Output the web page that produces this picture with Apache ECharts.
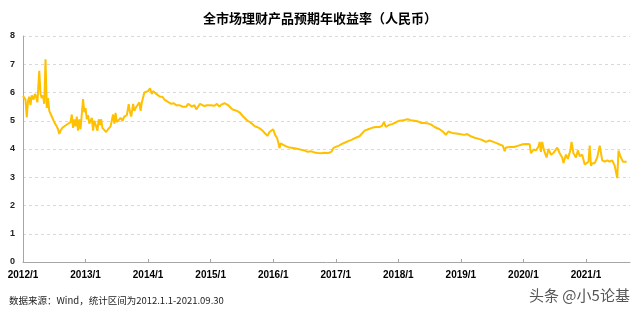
<!DOCTYPE html>
<html>
<head>
<meta charset="utf-8">
<script src="https://cdn.jsdelivr.net/npm/echarts@6/dist/echarts.min.js"></script>
<style>html,body{margin:0;padding:0;background:#fff}#c{width:640px;height:309px}</style>
</head>
<body>
<div id="c"></div>
<script>
var titleText = '全市场理财产品预期年收益率（人民币）';
var noteText = '数据来源：Wind，统计区间为2012.1.1-2021.09.30';
var markText = '头条 @小5论基';
var yTicks = [0, 1, 2, 3, 4, 5, 6, 7, 8];
var yearTicks = [2012, 2013, 2014, 2015, 2016, 2017, 2018, 2019, 2020, 2021];

// time as decimal years
var timeYears = [
2012.00,2012.02,2012.04,2012.06,2012.08,2012.10,2012.12,2012.14,2012.17,2012.19,
2012.21,2012.23,2012.26,2012.28,2012.30,2012.32,2012.34,2012.36,2012.38,2012.40,
2012.42,2012.44,2012.46,2012.48,2012.50,2012.52,2012.54,2012.56,2012.58,2012.60,
2012.63,2012.66,2012.69,2012.72,2012.76,2012.78,2012.80,2012.82,2012.84,2012.86,
2012.88,2012.90,2012.92,2012.96,2012.98,2013.00,2013.02,2013.04,2013.06,2013.08,
2013.10,2013.12,2013.14,2013.17,2013.19,2013.21,2013.23,2013.25,2013.27,2013.30,
2013.33,2013.36,2013.40,2013.44,2013.46,2013.48,2013.50,2013.53,2013.56,2013.59,
2013.62,2013.66,2013.69,2013.71,2013.73,2013.76,2013.78,2013.80,2013.83,2013.86,
2013.88,2013.90,2013.94,2013.97,2014.00,2014.03,2014.06,2014.08,2014.10,2014.13,
2014.16,2014.19,2014.23,2014.26,2014.29,2014.33,2014.37,2014.41,2014.45,2014.50,
2014.55,2014.58,2014.61,2014.64,2014.67,2014.70,2014.74,2014.77,2014.80,2014.83,
2014.86,2014.90,2014.94,2015.00,2015.06,2015.10,2015.14,2015.18,2015.22,2015.25,
2015.28,2015.31,2015.35,2015.38,2015.42,2015.46,2015.49,2015.52,2015.55,2015.59,
2015.63,2015.67,2015.71,2015.75,2015.79,2015.83,2015.87,2015.91,2015.94,2015.97,
2016.00,2016.03,2016.06,2016.08,2016.10,2016.12,2016.16,2016.20,2016.26,2016.34,
2016.40,2016.45,2016.50,2016.55,2016.60,2016.66,2016.72,2016.77,2016.82,2016.88,
2016.93,2016.97,2017.00,2017.05,2017.10,2017.14,2017.20,2017.26,2017.32,2017.38,
2017.42,2017.46,2017.52,2017.58,2017.64,2017.70,2017.74,2017.77,2017.80,2017.85,
2017.90,2017.94,2017.98,2018.02,2018.08,2018.15,2018.20,2018.26,2018.32,2018.37,
2018.39,2018.42,2018.48,2018.52,2018.58,2018.66,2018.72,2018.76,2018.80,2018.86,
2018.93,2019.00,2019.06,2019.10,2019.16,2019.22,2019.30,2019.36,2019.40,2019.46,
2019.52,2019.58,2019.63,2019.67,2019.70,2019.72,2019.78,2019.85,2019.92,2019.99,
2020.06,2020.10,2020.12,2020.16,2020.20,2020.24,2020.26,2020.28,2020.30,2020.33,
2020.37,2020.40,2020.44,2020.48,2020.51,2020.54,2020.58,2020.62,2020.64,2020.68,
2020.71,2020.75,2020.77,2020.80,2020.84,2020.87,2020.90,2020.94,2020.98,2021.01,
2021.04,2021.06,2021.08,2021.10,2021.14,2021.18,2021.22,2021.26,2021.30,2021.34,
2021.38,2021.42,2021.46,2021.50,2021.52,2021.55,2021.59,2021.62,2021.65
];

var yieldValues = [
5.88,5.85,5.75,5.12,5.70,5.85,5.55,5.90,5.75,5.95,
5.85,5.65,6.77,5.95,5.80,5.90,5.60,7.18,5.45,5.80,
5.35,5.40,5.15,5.10,4.95,4.90,4.80,4.70,4.53,4.65,
4.75,4.75,4.85,4.80,4.95,5.22,4.75,5.05,4.80,5.15,
4.65,5.05,4.70,5.77,5.30,5.45,5.05,5.20,4.90,4.85,
5.10,4.65,5.00,4.80,4.65,5.05,4.85,5.05,4.75,4.70,
4.60,4.70,4.80,5.22,4.90,5.28,4.95,5.00,5.10,5.00,
5.15,5.20,5.59,5.30,5.15,5.60,5.35,5.45,5.50,5.65,
5.35,5.65,6.00,6.00,6.05,6.15,5.95,6.05,6.07,5.95,
5.90,5.85,5.85,5.75,5.70,5.65,5.60,5.62,5.55,5.55,
5.50,5.55,5.50,5.60,5.62,5.50,5.55,5.40,5.45,5.60,
5.55,5.52,5.55,5.55,5.53,5.60,5.50,5.58,5.62,5.65,
5.55,5.50,5.40,5.35,5.35,5.30,5.30,5.15,5.10,5.00,
4.95,4.88,4.80,4.77,4.72,4.65,4.55,4.47,4.60,4.65,
4.70,4.50,4.40,4.25,4.03,4.20,4.15,4.10,4.05,4.03,
4.00,3.97,3.95,3.90,3.92,3.88,3.86,3.85,3.87,3.86,
3.90,4.05,4.10,4.12,4.18,4.22,4.28,4.33,4.40,4.45,
4.55,4.65,4.70,4.75,4.78,4.78,4.82,4.95,4.78,4.85,
4.88,4.92,4.97,5.00,5.02,5.05,5.02,5.00,4.97,4.92,
4.85,4.92,4.90,4.87,4.78,4.70,4.60,4.50,4.62,4.57,
4.55,4.52,4.50,4.53,4.45,4.40,4.35,4.30,4.25,4.30,
4.25,4.20,4.15,4.12,3.92,4.05,4.07,4.07,4.12,4.17,
4.18,4.17,3.85,3.98,3.95,4.08,4.25,3.90,4.25,3.95,
3.70,4.00,3.80,3.86,3.95,4.05,3.85,3.70,3.50,3.80,
3.65,3.95,4.25,3.85,3.70,3.95,3.75,3.80,3.45,3.45,
3.55,4.12,3.40,3.50,3.50,3.70,4.12,3.60,3.55,3.60,
3.55,3.60,3.40,2.97,3.94,3.75,3.55,3.50,3.55
];

var seriesData = timeYears.map(function (t, i) { return [t, yieldValues[i]]; });

var chart = echarts.init(document.getElementById('c'), null, {renderer: 'canvas'});
var cjk = "'Noto Sans CJK SC', sans-serif";
var lat = "'Liberation Sans', 'Noto Sans CJK SC', sans-serif";
chart.setOption({
  animation: false,
  backgroundColor: '#ffffff',
  title: [
    {text: titleText, left: 'center', top: 7,
     textStyle: {fontFamily: cjk, fontSize: 13, fontWeight: 'bold', color: '#000'}},
    {text: noteText, left: 4, top: 291,
     textStyle: {fontFamily: cjk, fontSize: 9.5, fontWeight: 'normal', color: '#222'}},
    {text: markText, left: 524, top: 283,
     textStyle: {fontFamily: cjk, fontSize: 15, fontWeight: 'normal', color: '#555',
                 textBorderColor: '#fff', textBorderWidth: 1}}
  ],
  grid: {left: 23, right: 10, top: 36, bottom: 47, containLabel: false},
  xAxis: {
    type: 'value',
    min: yearTicks[0],
    max: 2021.704,
    interval: 1,
    axisLine: {show: true, lineStyle: {color: '#a6a6a6', width: 1}},
    axisTick: {show: true, inside: true, length: 3, lineStyle: {color: '#a6a6a6'}},
    splitLine: {show: false},
    axisLabel: {
      margin: 8, fontFamily: lat, fontSize: 10, fontWeight: 'bold', color: '#000',
      showMaxLabel: false,
      formatter: function (v) {
        return yearTicks.indexOf(Math.round(v)) >= 0 && Math.abs(v - Math.round(v)) < 1e-6 ? Math.round(v) + '/1' : '';
      }
    }
  },
  yAxis: {
    type: 'value',
    min: yTicks[0],
    max: yTicks[yTicks.length - 1],
    interval: 1,
    axisLine: {show: true, lineStyle: {color: '#a6a6a6', width: 1}},
    axisTick: {show: false},
    splitLine: {show: true, lineStyle: {color: '#d9d9d9', type: [3, 3], width: 1}},
    axisLabel: {margin: 8, fontFamily: lat, fontSize: 9, fontWeight: 'bold', color: '#222'}
  },
  series: [{
    type: 'line',
    data: seriesData,
    showSymbol: false,
    symbol: 'none',
    lineStyle: {color: '#FFC000', width: 2},
    itemStyle: {color: '#FFC000'}
  }]
});
</script>
</body>
</html>
